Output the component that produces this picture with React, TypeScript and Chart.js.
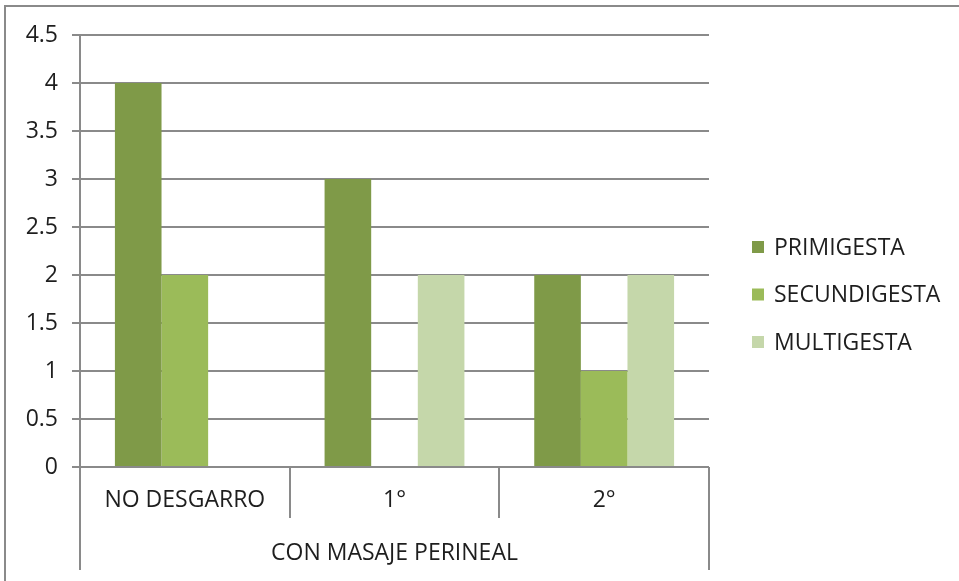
import React, { useEffect, useRef } from "react";
import { Chart, registerables } from "chart.js";

Chart.register(...registerables);

const categories = ["NO DESGARRO", "1°", "2°"];
const groupLabel = "CON MASAJE PERINEAL";
const seriesNames = ["PRIMIGESTA", "SECUNDIGESTA", "MULTIGESTA"];
const primigesta = [4, 3, 2];
const secundigesta = [2, 0, 1];
const multigesta = [0, 2, 2];
const seriesColors = ["#7F9A48", "#9BBB59", "#C5D7AA"];
const yMin = 0;
const yMax = 4.5;
const yStep = 0.5;

const FONT = "'Open Sans', 'DejaVu Sans', sans-serif";
const FONT_SIZE = 23;
const TEXT_COLOR = "#1e1e1e";
const LINE_COLOR = "#8a8a8a";

const decorPlugin = {
  id: "decor",
  afterDraw(chart: any) {
    const ctx = chart.ctx;
    const area = chart.chartArea;
    const xs = chart.scales.x;
    ctx.save();
    // outer chart border
    ctx.strokeStyle = LINE_COLOR;
    ctx.lineWidth = 2;
    ctx.strokeRect(5, 6, chart.width + 10, chart.height + 10);

    // category separators
    const n = chart.data.labels.length;
    ctx.beginPath();
    for (let i = 1; i < n; i++) {
      const x = Math.round((xs.getPixelForValue(i - 1) + xs.getPixelForValue(i)) / 2);
      ctx.moveTo(x, area.bottom);
      ctx.lineTo(x, area.bottom + 51);
    }
    // outer verticals of the group level
    ctx.moveTo(area.left, area.bottom);
    ctx.lineTo(area.left, area.bottom + 103);
    ctx.moveTo(area.right, area.bottom);
    ctx.lineTo(area.right, area.bottom + 103);
    ctx.stroke();

    // group label
    ctx.fillStyle = TEXT_COLOR;
    ctx.font = `${FONT_SIZE}px ${FONT}`;
    ctx.textAlign = "center";
    ctx.textBaseline = "middle";
    ctx.fillText(groupLabel, (area.left + area.right) / 2, area.bottom + 86);

    // legend
    ctx.textAlign = "left";
    const lx = area.right + 43;
    const startY = area.top + 212;
    chart.data.datasets.forEach((ds: any, i: number) => {
      const cy = startY + i * 47.5;
      ctx.fillStyle = ds.backgroundColor;
      ctx.fillRect(lx, cy - 6, 12, 12);
      ctx.fillStyle = TEXT_COLOR;
      ctx.fillText(ds.label, lx + 22, cy + 1);
    });
    ctx.restore();
  },
};

export default function App() {
  const ref = useRef<HTMLCanvasElement | null>(null);

  useEffect(() => {
    document.body.style.margin = "0";
    const canvas = ref.current!;
    const values = [primigesta, secundigesta, multigesta];
    const chart = new Chart(canvas, {
      type: "bar",
      data: {
        labels: categories,
        datasets: seriesNames.map((name, i) => ({
          label: name,
          data: values[i],
          backgroundColor: seriesColors[i],
          borderWidth: 0,
          categoryPercentage: 0.667,
          barPercentage: 1.0,
        })),
      },
      options: {
        responsive: false,
        maintainAspectRatio: false,
        animation: false,
        devicePixelRatio: 1,
        layout: { padding: { top: 35, right: 250, left: 0, bottom: 0 } },
        plugins: {
          legend: { display: false },
          tooltip: { enabled: false },
          title: { display: false },
        },
        scales: {
          x: {
            type: "category",
            grid: { display: false, drawTicks: false },
            border: { display: false },
            ticks: {
              color: TEXT_COLOR,
              font: { family: FONT, size: FONT_SIZE },
              padding: 20,
              maxRotation: 0,
              autoSkip: false,
            },
            afterFit: (scale: any) => {
              scale.height = 114;
            },
          },
          y: {
            min: yMin,
            max: yMax,
            ticks: {
              stepSize: yStep,
              color: TEXT_COLOR,
              font: { family: FONT, size: FONT_SIZE },
              padding: 14,
              callback: (v: any) => String(Number(v)),
            },
            grid: {
              color: LINE_COLOR,
              lineWidth: 2,
              tickLength: 8,
              drawTicks: true,
            },
            border: { display: true, color: LINE_COLOR, width: 2 },
            afterFit: (scale: any) => {
              scale.width = 80;
            },
          },
        },
      },
      plugins: [decorPlugin],
    } as any);
    return () => chart.destroy();
  }, []);

  return (
    <div style={{ width: 959, height: 581, background: "#fff" }}>
      <canvas ref={ref} width={959} height={581} style={{ display: "block" }} />
    </div>
  );
}
